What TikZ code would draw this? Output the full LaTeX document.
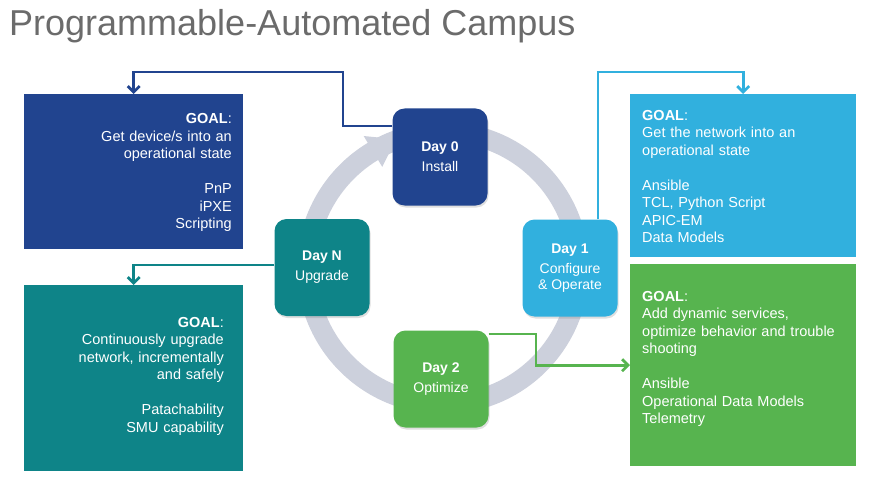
\documentclass[tikz,border=0pt]{standalone}
\usepackage{fontspec}
\setmainfont{Liberation Sans}
\usetikzlibrary{arrows.meta,shadows,calc,backgrounds}
\definecolor{cdark}{HTML}{21448F}
\definecolor{clight}{HTML}{31B0DE}
\definecolor{cteal}{HTML}{0E8488}
\definecolor{cgreen}{HTML}{57B44F}
\definecolor{cring}{HTML}{CCD0DC}
\definecolor{ctitle}{HTML}{6B6B6B}
\begin{document}
\begin{tikzpicture}[x=1pt,y=1pt,
  daybox/.style={rounded corners=12pt, minimum width=95pt, minimum height=97pt,
    text=white, align=center, inner sep=0pt, font=\fontsize{14}{16}\selectfont,
    drop shadow={opacity=0.25,shadow xshift=1pt,shadow yshift=-2pt}},
  goalbox/.style={minimum width=219pt, inner sep=0pt, anchor=north west},
  goaltext/.style={text=white, inner sep=0pt, text width=215pt,
    font=\fontsize{14.5}{17.5}\selectfont},
  conn/.style={line width=2.7pt, -{Straight Barb[length=6pt,width=12pt]}},
]
\useasboundingbox (0,0) rectangle (874,488);

% title
\node[anchor=base west, inner sep=0pt, text=ctitle, font=\fontsize{36}{40}\selectfont]
  (title) at (9,452) {Programmable-Automated Campus};

% goal boxes
\node[goalbox, fill=cdark, minimum height=155pt] (tl) at (24,394) {};
\node[goalbox, fill=cteal, minimum height=186pt] (bl) at (24,203) {};
\node[goalbox, fill=clight, minimum width=226pt, minimum height=163pt] (tr) at (630,394) {};
\node[goalbox, fill=cgreen, minimum width=226pt, minimum height=202pt] (br) at (630,224) {};

% goal texts
\node[goaltext, align=right, anchor=east] (tltext) at (232,315.5)
  {\textbf{GOAL}:\\Get device/s into an\\operational state\\[17.5pt]PnP\\iPXE\\Scripting};
\node[goaltext, align=left, anchor=west] (trtext) at (642,311.5)
  {\textbf{GOAL}:\\Get the network into an\\operational state\\[17.5pt]Ansible\\TCL, Python Script\\APIC-EM\\Data Models};
\node[goaltext, align=right, anchor=east] (bltext) at (224,112)
  {\textbf{GOAL}:\\Continuously upgrade\\network, incrementally\\and safely\\[17.5pt]Patachability\\SMU capability};
\node[goaltext, align=left, anchor=west] (brtext) at (642,129)
  {\textbf{GOAL}:\\Add dynamic services,\\optimize behavior and trouble\\shooting\\[17.5pt]Ansible\\Operational Data Models\\Telemetry};

% day nodes
\coordinate (c) at (443,220);
\node[daybox, fill=cdark] (day0) at (440,331) {\textbf{Day 0}\\[4pt]Install};
\node[daybox, fill=clight] (day1) at (570,220) {\textbf{Day 1}\\[4pt]Configure\\\& Operate};
\node[daybox, fill=cteal] (dayn) at (322,220.5) {\textbf{Day N}\\[4pt]Upgrade};
\node[daybox, fill=cgreen] (day2) at (441,109) {\textbf{Day 2}\\[4pt]Optimize};

% ring
\begin{scope}[on background layer]
  \draw[cring, line width=20pt] (c) circle[radius=136];
  \fill[cring] ($(c)+(110:137)$) -- ($(c)+(121:154)$) -- ($(c)+(121:118)$) -- cycle;
\end{scope}

% connectors
\draw[conn, cdark] ([yshift=31pt]day0.west) -| (343,416) -| (tl.north);
\draw[conn, clight] ([xshift=28pt]day1.north) |- ($(tr.north)+(0,22)$) -- (tr.north);
\draw[conn, cteal] ([yshift=2.5pt]dayn.west) -| (bl.north);
\draw[conn, cgreen] ([yshift=45pt]day2.east) -| ([xshift=-94pt]br.west) -- (br.west);
\end{tikzpicture}
\end{document}
